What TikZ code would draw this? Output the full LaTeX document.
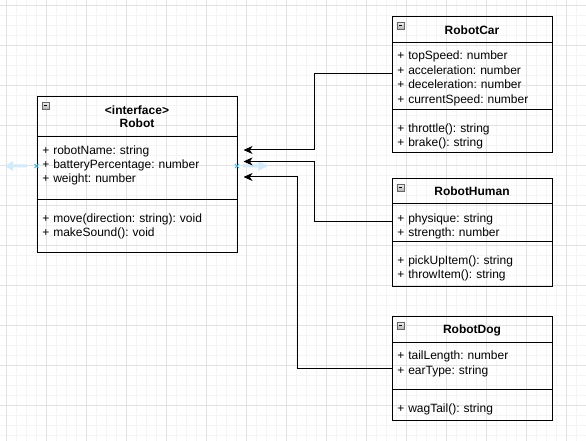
\documentclass[tikz,border=0pt]{standalone}
\usepackage{fontspec}
\setmainfont{Liberation Sans}
\usetikzlibrary{arrows.meta}
\definecolor{gridmajor}{HTML}{E2E2E2}
\definecolor{gridminor}{HTML}{F4F4F4}
\definecolor{hoverblue}{HTML}{D2EBFB}
\definecolor{markblue}{HTML}{29B6F2}
\frenchspacing
\begin{document}
\begin{tikzpicture}[x=0.75pt,y=-0.75pt,
  font=\fontsize{9}{10.5}\selectfont,
  classbox/.style={draw, line width=0.75pt, anchor=north west, inner sep=0pt},
  ttl/.style={font=\fontsize{9}{9.75}\selectfont\bfseries, align=center, inner sep=0pt},
  rowA/.style={anchor=west, inner xsep=3.75pt, inner ysep=0pt, text width=142.5pt, align=left, text height=6.5pt, text depth=0.1pt},
  rowB/.style={rowA, text width=112.5pt},
  inh/.style={line width=0.75pt, -{Stealth[length=6.75pt,width=6pt,inset=2pt]}},
  sepline/.style={line width=0.75pt},
  collapse/.pic={
    \draw[draw=gray!80!black, top color=gray!10, bottom color=gray!60, line width=0.6pt] (0,0) rectangle (7,7);
    \draw[line width=0.8pt] (1.6,3.5) -- (5.4,3.5);
  }]
\useasboundingbox (0,0) rectangle (586,441);
\fill[white] (0,0) rectangle (586,441);
% grid
\foreach \gx in {6,16,...,586} \draw[gridminor, line width=0.75pt] (\gx,0) -- (\gx,441);
\foreach \gy in {6,16,...,436} \draw[gridminor, line width=0.75pt] (0,\gy) -- (586,\gy);
\foreach \gx in {6,46,...,566} \draw[gridmajor, line width=0.75pt] (\gx,0) -- (\gx,441);
\foreach \gy in {6,46,...,406} \draw[gridmajor, line width=0.75pt] (0,\gy) -- (586,\gy);
% hover indicators
\fill[hoverblue] (27,164.5) -- (13,164.5) -- (13,161) -- (5,166) -- (13,171) -- (13,167.5) -- (27,167.5) -- cycle;
\fill[hoverblue] (243,164.5) -- (258,164.5) -- (258,161) -- (268,166) -- (258,171) -- (258,167.5) -- (243,167.5) -- cycle;

% Robot
\node[classbox, minimum width=150pt, minimum height=117pt] (robot) at (37,96) {};
\draw[sepline] (robot.west |- 0,137) -- (robot.east |- 0,137);
\draw[sepline] (robot.west |- 0,200) -- (robot.east |- 0,200);
\pic at (42,102) {collapse};
\node[ttl] (robotT) at (137,116.5) {\textless interface\textgreater\\Robot};
\node[rowA] (rName) at (37,150) {+ robotName: string};
\node[rowA] (rBatt) at (37,164) {+ batteryPercentage: number};
\node[rowA] (rWeight) at (37,178) {+ weight: number};
\node[rowA] (rMove) at (37,218) {+ move(direction: string): void};
\node[rowA] (rSound) at (37,232) {+ makeSound(): void};

% RobotCar
\node[classbox, minimum width=120pt, minimum height=102pt] (car) at (392,16) {};
\draw[sepline] (car.west |- 0,43) -- (car.east |- 0,43);
\draw[sepline] (car.west |- 0,110) -- (car.east |- 0,110);
\pic at (397,22) {collapse};
\node[ttl] (carT) at (472,30) {RobotCar};
\node[rowB] (cTop) at (392,55) {+ topSpeed: number};
\node[rowB] (cAcc) at (392,70) {+ acceleration: number};
\node[rowB] (cDec) at (392,84) {+ deceleration: number};
\node[rowB] (cCur) at (392,99) {+ currentSpeed: number};
\node[rowB] (cThr) at (392,128) {+ throttle(): string};
\node[rowB] (cBrk) at (392,142) {+ brake(): string};

% RobotHuman
\node[classbox, minimum width=120pt, minimum height=81pt] (human) at (392,178) {};
\draw[sepline] (human.west |- 0,204) -- (human.east |- 0,204);
\draw[sepline] (human.west |- 0,242) -- (human.east |- 0,242);
\pic at (397,184) {collapse};
\node[ttl] (humanT) at (472,191.5) {RobotHuman};
\node[rowB] (hPhys) at (392,218) {+ physique: string};
\node[rowB] (hStr) at (392,232) {+ strength: number};
\node[rowB] (hPick) at (392,260) {+ pickUpItem(): string};
\node[rowB] (hThrow) at (392,274) {+ throwItem(): string};

% RobotDog
\node[classbox, minimum width=120pt, minimum height=78pt] (dog) at (392,316) {};
\draw[sepline] (dog.west |- 0,343) -- (dog.east |- 0,343);
\draw[sepline] (dog.west |- 0,390) -- (dog.east |- 0,390);
\pic at (397,322) {collapse};
\node[ttl] (dogT) at (472,330) {RobotDog};
\node[rowB] (dTail) at (392,355) {+ tailLength: number};
\node[rowB] (dEar) at (392,370) {+ earType: string};
\node[rowB] (dWag) at (392,408) {+ wagTail(): string};

% connectors
\draw[inh] ([yshift=-3pt]cAcc.west) -- ++(-78,0) |- ([xshift=4.5pt]rName.east);
\draw[inh] ([yshift=-2.6pt]hPhys.west) -- ++(-78,0) |- ([xshift=4.5pt,yshift=1.9pt]rBatt.east);
\draw[inh] ([yshift=0.75pt]dEar.west) -- ++(-95,0) |- ([xshift=4.5pt,yshift=0.75pt]rWeight.east);

% connection markers
\draw[markblue, line width=0.6pt] (34.5,164) -- (38.5,168) (34.5,168) -- (38.5,164);
\draw[markblue, line width=0.6pt] (235,164) -- (239,168) (235,168) -- (239,164);
\end{tikzpicture}
\end{document}
